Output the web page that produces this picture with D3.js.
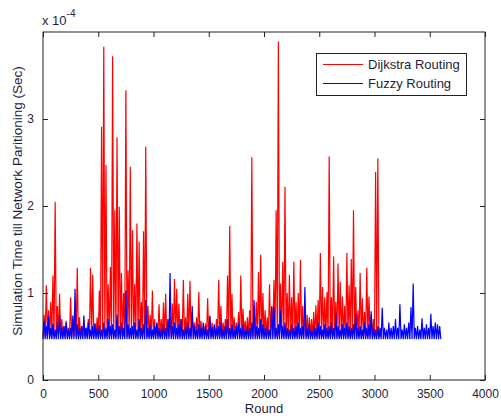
<!DOCTYPE html>
<html>
<head>
<meta charset="utf-8">
<script src="https://cdn.jsdelivr.net/npm/d3@7"></script>
<style>
  body { margin: 0; background: #fff; }
  svg { display: block; font-family: "Liberation Sans", Arial, sans-serif; }
</style>
</head>
<body>
<svg width="501" height="416"></svg>
<script>
// values are in units of 1e-4 sec, one peak per block of 20 rounds
const roundStep = 20;
const dijkstraFloor = 0.5;
const fuzzyFloor = 0.47;

const dijkstraPeaks = [
  0.75, 1.09, 0.8, 0.9, 1.2, 2.05, 0.85, 0.99, 0.7, 0.62,
  0.68, 0.6, 0.95, 0.65, 0.7, 1.29, 0.72, 0.62, 0.68, 0.6,
  0.7, 1.29, 1.21, 0.65, 0.72, 1.03, 2.91, 3.83, 2.47, 1.1,
  1.3, 3.72, 1.95, 2.79, 1.99, 1.23, 1.0, 3.33, 1.26, 2.45,
  1.72, 1.1, 1.8, 1.59, 0.9, 1.71, 2.68, 0.85, 0.75, 1.03,
  0.7, 0.65, 0.87, 0.7, 0.89, 0.99, 0.66, 0.72, 0.88, 1.16,
  1.05, 0.88, 0.7, 1.15, 0.72, 0.99, 1.14, 0.78, 0.66, 0.72,
  1.01, 0.68, 0.6, 0.65, 0.94, 0.72, 0.66, 0.62, 0.7, 1.15,
  0.85, 0.66, 0.7, 1.2, 1.77, 0.99, 0.72, 0.66, 0.78, 1.2,
  0.82, 0.68, 0.72, 0.8, 2.56, 0.85, 0.9, 1.24, 1.44, 1.0,
  0.8, 0.72, 1.1, 0.85, 1.15, 1.95, 3.89, 1.11, 1.36, 2.22,
  1.0, 1.21, 0.95, 1.36, 0.9, 1.0, 1.38, 0.85, 0.8, 0.75,
  0.72, 0.7, 0.78, 0.86, 0.92, 1.46, 1.07, 0.95, 1.01, 2.57,
  0.95, 1.42, 0.9, 1.34, 1.13, 0.96, 0.85, 1.46, 1.09, 1.39,
  1.95, 1.07, 0.8, 1.23, 0.94, 0.78, 1.29, 0.96, 0.75, 0.7,
  2.39, 2.55, 0.55
];

const fuzzyPeaks = [
  0.68, 0.62, 0.74, 0.6, 0.65, 0.58, 0.66, 0.74, 0.6, 0.62,
  0.66, 0.58, 0.6, 0.74, 1.05, 0.64, 0.6, 0.62, 0.74, 0.6,
  0.66, 0.58, 0.62, 0.65, 0.6, 0.63, 0.58, 0.66, 0.6, 0.7,
  0.62, 0.64, 0.58, 0.75, 0.62, 0.66, 0.6, 1.03, 0.64, 0.6,
  0.62, 0.66, 0.58, 0.7, 0.6, 0.64, 0.92, 0.6, 0.63, 0.58,
  0.62, 0.66, 0.6, 0.58, 0.64, 0.6, 0.7, 1.23, 0.62, 0.66,
  0.6, 0.64, 0.7, 0.58, 0.62, 0.66, 0.6, 0.85, 0.62, 0.58,
  0.64, 0.6, 0.66, 0.62, 0.58, 0.74, 0.6, 0.64, 0.6, 0.62,
  0.66, 0.58, 0.62, 0.7, 0.6, 0.64, 0.58, 0.62, 0.66, 0.6,
  0.64, 0.58, 0.62, 0.6, 0.66, 0.92, 0.62, 0.6, 0.7, 0.64,
  0.6, 0.62, 0.58, 0.84, 0.84, 0.6, 0.64, 0.8, 0.62, 0.66,
  0.6, 0.58, 0.64, 0.6, 0.62, 0.66, 0.6, 0.62, 1.07, 0.6,
  0.64, 0.58, 0.62, 0.6, 0.66, 0.62, 0.58, 0.64, 0.6, 0.62,
  0.66, 0.6, 0.76, 0.62, 0.58, 0.64, 0.6, 0.66, 0.62, 0.6,
  0.64, 0.76, 0.6, 0.62, 0.58, 0.66, 0.6, 0.64, 0.79, 0.6,
  0.58, 0.62, 0.6, 0.83, 0.6, 0.58, 0.66, 0.6, 0.62, 0.7,
  0.6, 0.87, 0.58, 0.64, 0.6, 0.66, 0.84, 1.11, 0.6, 0.62,
  0.58, 0.71, 0.6, 0.64, 0.6, 0.76, 0.62, 0.66, 0.64, 0.62
];

const xTicks = [0, 500, 1000, 1500, 2000, 2500, 3000, 3500, 4000];
const yTicks = [0, 1, 2, 3];
const seriesNames = ["Dijkstra Routing", "Fuzzy Routing"];
const seriesColors = ["#ff0000", "#0000ff"];

const textColor = "#1e1e3c";
const plotLeft = 43, plotRight = 485, plotTop = 32, plotBottom = 380;

const svg = d3.select("svg");

const x = d3.scaleLinear().domain([0, 4000]).range([plotLeft, plotRight]);
const y = d3.scaleLinear().domain([0, 4]).range([plotBottom, plotTop]);

// turn the per-block peaks into a zigzag line: floor, peak, floor, peak...
function toPoints(peaks, floor) {
  let pts = [];
  peaks.forEach((p, i) => {
    pts.push([i * roundStep, floor]);
    pts.push([i * roundStep + roundStep / 2, p]);
  });
  pts.push([peaks.length * roundStep, floor]);
  return pts;
}

const line = d3.line().x(d => x(d[0])).y(d => y(d[1]));

svg.append("path")
  .attr("d", line(toPoints(dijkstraPeaks, dijkstraFloor)))
  .attr("fill", "none")
  .attr("stroke", seriesColors[0])
  .attr("stroke-width", 1.2);

svg.append("path")
  .attr("d", line(toPoints(fuzzyPeaks, fuzzyFloor)))
  .attr("fill", "none")
  .attr("stroke", seriesColors[1])
  .attr("stroke-width", 1.2);

// axes, ticks pointing inwards like matlab
const fmt = d3.format("d");
const gx = svg.append("g")
  .attr("transform", "translate(0," + plotBottom + ")")
  .call(d3.axisBottom(x).tickValues(xTicks).tickFormat(fmt).tickSizeInner(-5).tickSizeOuter(0).tickPadding(9));
const gxTop = svg.append("g")
  .attr("transform", "translate(0," + plotTop + ")")
  .call(d3.axisTop(x).tickValues(xTicks).tickSizeInner(-5).tickSizeOuter(0).tickFormat(""));
const gy = svg.append("g")
  .attr("transform", "translate(" + plotLeft + ",0)")
  .call(d3.axisLeft(y).tickValues(yTicks).tickFormat(fmt).tickSizeInner(-5).tickSizeOuter(0).tickPadding(9));
const gyRight = svg.append("g")
  .attr("transform", "translate(" + plotRight + ",0)")
  .call(d3.axisRight(y).tickValues(yTicks).tickSizeInner(-5).tickSizeOuter(0).tickFormat(""));

[gx, gxTop, gy, gyRight].forEach(g => {
  g.select(".domain").remove();
  g.selectAll(".tick line").attr("stroke", "#222");
  g.selectAll("text")
    .attr("fill", textColor)
    .style("font-size", "12px")
    .style("font-family", "'Liberation Sans', Arial, sans-serif");
});
gy.selectAll("text").attr("dy", "0.33em");

svg.append("rect")
  .attr("x", plotLeft).attr("y", plotTop)
  .attr("width", plotRight - plotLeft).attr("height", plotBottom - plotTop)
  .attr("fill", "none")
  .attr("stroke", "#222")
  .attr("stroke-width", 1);

// exponent label
const expo = svg.append("text")
  .attr("x", plotLeft - 1).attr("y", 25)
  .attr("fill", textColor)
  .style("font-size", "13px")
  .text("x 10");
expo.append("tspan")
  .attr("dy", -8)
  .style("font-size", "10px")
  .text("-4");

// axis titles
svg.append("text")
  .attr("x", (plotLeft + plotRight) / 2).attr("y", 413)
  .attr("text-anchor", "middle")
  .attr("fill", textColor)
  .style("font-size", "13px")
  .text("Round");

svg.append("text")
  .attr("transform", "translate(22,201) rotate(-90)")
  .attr("text-anchor", "middle")
  .attr("fill", textColor)
  .style("font-size", "13.5px")
  .text("Simulation Time till Network Paritioning (Sec)");

// legend
const legend = svg.append("g");
legend.append("rect")
  .attr("x", 316.5).attr("y", 53.5)
  .attr("width", 150).attr("height", 42)
  .attr("fill", "#fff")
  .attr("stroke", "#222");
seriesNames.forEach((name, i) => {
  const ly = 64.5 + i * 19;
  legend.append("line")
    .attr("x1", 323).attr("x2", 363)
    .attr("y1", ly).attr("y2", ly)
    .attr("stroke", seriesColors[i]);
  legend.append("text")
    .attr("x", 368).attr("y", ly + 4.5)
    .attr("fill", textColor)
    .style("font-size", "13px")
    .text(name);
});
</script>
</body>
</html>
